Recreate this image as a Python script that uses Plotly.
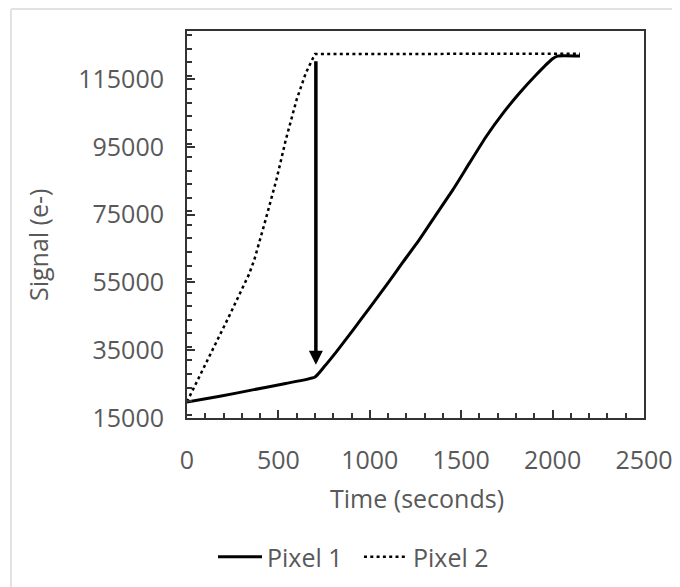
import plotly.graph_objects as go

# ---- data ----
pixel1_time = [0, 180, 359, 540, 700, 750, 818, 909, 1000, 1091, 1180, 1272, 1360, 1454, 1545, 1636, 1727, 1818, 1909, 2000, 2027, 2150]
pixel1_signal = [19700, 21400, 23300, 25200, 27100, 30100, 34600, 41000, 47600, 54200, 60900, 67700, 74800, 82300, 90200, 98000, 104800, 110800, 116200, 121000, 121800, 121800]

pixel2_time = [0, 130, 230, 340, 370, 430, 490, 540, 600, 650, 700, 2150]
pixel2_signal = [19800, 34000, 45000, 57500, 62000, 73500, 85500, 97000, 109000, 116800, 122400, 122500]

arrow_time = 705
arrow_from_signal = 120700
arrow_to_signal = 30700

x_title = "Time (seconds)"
y_title = "Signal (e-)"
series_names = ["Pixel 1", "Pixel 2"]

FONT = "Open Sans"
GREY = "#595959"
FS = 25

# page has an 8px body margin, so figure coordinates = reference coordinates - 8
OFF = 8
PL, PT, PW, PH = 187 - OFF, 31 - OFF, 457, 387


def px_x(xr):
    return (xr - 187) / PW


def px_y(yr):
    return (418 - yr) / PH


fig = go.Figure()
fig.add_trace(go.Scatter(x=pixel1_time, y=pixel1_signal, mode="lines", name=series_names[0],
                         line=dict(color="black", width=3, shape="spline", smoothing=0.5)))
fig.add_trace(go.Scatter(x=pixel2_time, y=pixel2_signal, mode="lines", name=series_names[1],
                         line=dict(color="black", width=2.5, dash="3px,3.3px")))

fig.add_annotation(x=arrow_time, y=arrow_to_signal, ax=arrow_time, ay=arrow_from_signal,
                   xref="x", yref="y", axref="x", ayref="y", text="", showarrow=True,
                   arrowhead=2, arrowsize=0.8, arrowwidth=3.5, arrowcolor="black")

fig.add_annotation(x=px_x(416.7), y=px_y(498), xref="paper", yref="paper",
                   text=x_title, showarrow=False, font=dict(family=FONT, size=FS, color=GREY),
                   xanchor="center", yanchor="middle")
fig.add_annotation(x=px_x(38), y=px_y(245), xref="paper", yref="paper",
                   text=y_title, showarrow=False, textangle=-90,
                   font=dict(family=FONT, size=FS, color=GREY), xanchor="center", yanchor="middle")

# light frame of the chart area
fig.add_shape(type="line", xref="paper", yref="paper", x0=px_x(11), x1=px_x(11),
              y0=px_y(9), y1=px_y(600), line=dict(color="#e2e2e2", width=2))
fig.add_shape(type="line", xref="paper", yref="paper", x0=px_x(11), x1=px_x(700),
              y0=px_y(9), y1=px_y(9), line=dict(color="#e2e2e2", width=2))

axis_common = dict(showline=True, linecolor="#333333", linewidth=2, mirror=True,
                   ticks="inside", ticklen=8, tickwidth=2, tickcolor="#333333",
                   showgrid=False, zeroline=False, automargin=False, tickformat="d",
                   tickfont=dict(family=FONT, size=FS, color=GREY))

fig.update_xaxes(range=[0, 2500], tick0=0, dtick=500, ticklabelstandoff=19,
                 minor=dict(dtick=100, ticks="inside", ticklen=5, tickwidth=1.5, tickcolor="#333333"),
                 **axis_common)
fig.update_yaxes(range=[15000, 129200], tick0=15000, dtick=20000, ticklabelstandoff=16,
                 minor=dict(dtick=4000, ticks="inside", ticklen=5, tickwidth=1.5, tickcolor="#333333"),
                 **axis_common)

fig.update_layout(
    width=680, height=587,
    margin=dict(l=PL, r=680 - PL - PW, t=PT, b=587 - PT - PH, autoexpand=False),
    paper_bgcolor="white", plot_bgcolor="white",
    font=dict(family=FONT, size=FS, color=GREY),
    showlegend=True,
    legend=dict(orientation="h", x=px_x(213), xanchor="left",
                y=px_y(557), yanchor="middle", itemwidth=44,
                entrywidth=87, entrywidthmode="pixels",
                font=dict(family=FONT, size=FS, color=GREY), bgcolor="rgba(0,0,0,0)"),
)

fig.write_html("out.html")
